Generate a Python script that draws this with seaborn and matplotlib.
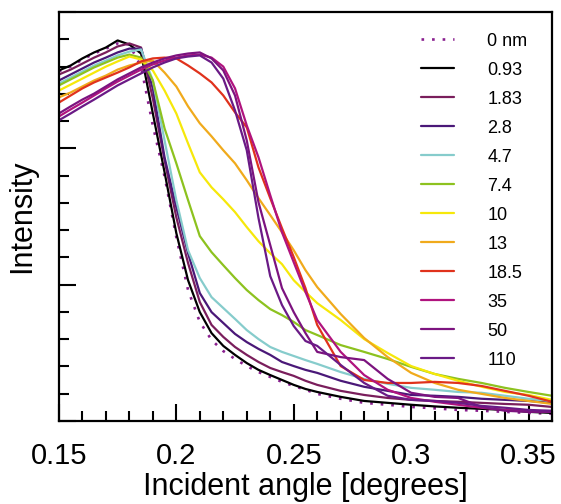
import matplotlib
matplotlib.use("Agg")
import matplotlib.pyplot as plt
from matplotlib.ticker import MultipleLocator, NullFormatter
import seaborn as sns
import pandas as pd

# incident angle (degrees)
angle = [0.15, 0.155, 0.16, 0.165, 0.17, 0.175, 0.18, 0.185, 0.19, 0.195,
         0.2, 0.205, 0.21, 0.215, 0.22, 0.225, 0.23, 0.235, 0.24, 0.245,
         0.25, 0.255, 0.26, 0.27, 0.28, 0.29, 0.3, 0.31, 0.32, 0.33,
         0.34, 0.35, 0.36]

# intensity (arbitrary units) per film thickness
i_0nm = [12.83, 13.0, 13.26, 13.48, 13.66, 13.85, 13.81, 13.0, 10.84, 8.97,
         6.74, 4.80, 3.63, 2.97, 2.56, 2.27, 2.01, 1.79, 1.61, 1.43,
         1.28, 1.14, 0.99, 0.81, 0.66, 0.59, 0.51, 0.46, 0.40, 0.37,
         0.33, 0.29, 0.26]
i_093 = [12.86, 13.04, 13.30, 13.52, 13.70, 13.96, 13.81, 13.48, 11.28, 9.12,
         6.89, 5.16, 3.99, 3.22, 2.75, 2.42, 2.12, 1.87, 1.68, 1.50,
         1.32, 1.17, 1.06, 0.88, 0.73, 0.66, 0.59, 0.53, 0.48, 0.44,
         0.40, 0.33, 0.29]
i_183 = [12.71, 12.89, 13.11, 13.33, 13.52, 13.74, 13.85, 13.70, 11.83, 9.56,
         7.47, 5.79, 4.36, 3.52, 3.08, 2.71, 2.42, 2.16, 1.94, 1.79,
         1.65, 1.47, 1.32, 1.10, 0.95, 0.84, 0.77, 0.73, 0.70, 0.66,
         0.62, 0.59, 0.51]
i_28 = [12.49, 12.71, 12.93, 13.15, 13.33, 13.52, 13.66, 13.66, 12.20, 9.67,
        7.84, 6.15, 4.69, 3.99, 3.59, 3.19, 2.89, 2.64, 2.42, 2.16,
        2.01, 1.87, 1.76, 1.47, 1.25, 1.10, 0.95, 0.92, 0.88, 0.81,
        0.77, 0.73, 0.66]
i_47 = [12.38, 12.60, 12.82, 13.04, 13.22, 13.41, 13.55, 13.63, 12.49, 10.29,
        8.10, 6.26, 5.24, 4.54, 4.14, 3.74, 3.33, 3.00, 2.71, 2.53,
        2.38, 2.23, 2.09, 1.79, 1.54, 1.36, 1.21, 1.14, 1.06, 1.03,
        0.92, 0.81, 0.73]
i_74 = [12.31, 12.53, 12.75, 12.97, 13.15, 13.33, 13.44, 13.33, 12.49, 10.73,
        9.45, 8.10, 6.78, 6.19, 5.71, 5.24, 4.80, 4.43, 4.10, 3.88,
        3.63, 3.33, 3.15, 2.78, 2.53, 2.27, 1.98, 1.72, 1.54, 1.39,
        1.21, 1.06, 0.92]
i_10 = [12.12, 12.34, 12.56, 12.78, 13.00, 13.19, 13.37, 13.26, 12.86, 12.12,
        11.28, 10.18, 9.12, 8.57, 8.13, 7.66, 7.11, 6.59, 6.15, 5.75,
        5.16, 4.73, 4.32, 3.70, 3.00, 2.49, 2.01, 1.72, 1.47, 1.25,
        1.06, 0.95, 0.77]
i_13 = [11.87, 12.05, 12.27, 12.49, 12.67, 12.89, 13.04, 13.15, 13.22, 12.78,
        12.27, 11.54, 10.92, 10.44, 9.93, 9.45, 8.83, 8.17, 7.55, 6.92,
        6.26, 5.53, 4.91, 3.92, 3.04, 2.34, 1.76, 1.39, 1.14, 0.99,
        0.84, 0.73, 0.62]
i_185 = [11.68, 11.94, 12.20, 12.42, 12.60, 12.78, 12.97, 13.19, 13.30, 13.33,
         13.30, 13.04, 12.75, 12.42, 11.94, 11.32, 10.77, 9.30, 8.17, 7.07,
         6.01, 4.87, 3.52, 2.01, 1.50, 1.39, 1.39, 1.43, 1.39, 1.28,
         1.10, 0.92, 0.70]
i_35 = [11.17, 11.43, 11.68, 11.94, 12.20, 12.45, 12.67, 12.89, 13.08, 13.22,
        13.33, 13.41, 13.44, 13.33, 13.00, 12.20, 10.84, 9.67, 8.28, 6.92,
        5.82, 4.73, 3.70, 2.53, 1.68, 1.14, 0.84, 0.70, 0.59, 0.48,
        0.40, 0.37, 0.33]
i_50 = [11.28, 11.54, 11.79, 12.01, 12.27, 12.53, 12.75, 12.97, 13.15, 13.30,
        13.41, 13.48, 13.52, 13.30, 12.86, 11.94, 10.29, 8.02, 6.45, 4.87,
        3.99, 3.22, 2.53, 2.34, 2.23, 1.54, 1.03, 0.88, 0.84, 0.51,
        0.37, 0.33, 0.33]
i_110 = [11.03, 11.28, 11.54, 11.79, 12.05, 12.31, 12.53, 12.75, 12.97, 13.15,
         13.30, 13.37, 13.41, 13.15, 12.56, 11.39, 9.93, 7.44, 5.31, 4.25,
         3.48, 2.93, 2.75, 2.05, 1.39, 0.92, 0.77, 0.73, 0.66, 0.55,
         0.48, 0.40, 0.37]

labels = ["0 nm", "0.93", "1.83", "2.8", "4.7", "7.4", "10", "13", "18.5",
          "35", "50", "110"]
series = [i_0nm, i_093, i_183, i_28, i_47, i_74, i_10, i_13, i_185,
          i_35, i_50, i_110]
colors = ["#8a1f8f", "#000000", "#7a1e5c", "#4a1878", "#86cccc", "#8dc21f",
          "#f6e80a", "#f0aa1c", "#e0321c", "#b0137e", "#7c137f", "#6a1a86"]

sns.set_theme(style="ticks")
plt.rcParams["font.family"] = ["Liberation Sans", "DejaVu Sans"]
plt.rcParams["text.color"] = "black"
plt.rcParams["axes.labelcolor"] = "black"
plt.rcParams["xtick.color"] = "black"
plt.rcParams["ytick.color"] = "black"

fig = plt.figure(figsize=(5.61, 5.04), dpi=100)
ax = fig.add_axes([0.105, 0.165, 0.879, 0.811])

for lab, vals, col in zip(labels, series, colors):
    df = pd.DataFrame({"angle": angle, "intensity": vals})
    if lab == "0 nm":
        sns.lineplot(data=df, x="angle", y="intensity", ax=ax, color=col,
                     linewidth=1.9, linestyle=(0, (1, 3)), label=lab)
    else:
        sns.lineplot(data=df, x="angle", y="intensity", ax=ax, color=col,
                     linewidth=1.6, label=lab)

ax.set_xlim(0.15, 0.36)
ax.set_ylim(0, 15)
ax.set_xticks([0.15, 0.2, 0.25, 0.3, 0.35])
ax.set_xticklabels(["0.15", "0.2", "0.25", "0.3", "0.35"])
ax.xaxis.set_minor_locator(MultipleLocator(0.01))
ax.yaxis.set_major_locator(MultipleLocator(5))
ax.yaxis.set_minor_locator(MultipleLocator(1))
ax.yaxis.set_major_formatter(NullFormatter())
ax.tick_params(axis="both", which="major", direction="in", length=12,
               width=1.5, labelsize=21, pad=15, colors="black")
ax.tick_params(axis="both", which="minor", direction="in", length=7,
               width=1.5, colors="black")
ax.tick_params(top=False, right=False, which="both")
for s in ax.spines.values():
    s.set_linewidth(1.6)
    s.set_color("black")

ax.set_xlabel("Incident angle [degrees]", fontsize=22, labelpad=2,
              color="black")
ax.set_ylabel("Intensity", fontsize=22, color="black")
ax.yaxis.set_label_coords(-0.044, 0.5)

leg = ax.legend(loc="upper left", bbox_to_anchor=(0.735, 0.95),
                frameon=False, fontsize=13, handlelength=1.8,
                handletextpad=1.85, labelspacing=0.665, borderaxespad=0,
                borderpad=0)
for t in leg.get_texts():
    t.set_color("black")

fig.savefig("out.png", dpi=100)
